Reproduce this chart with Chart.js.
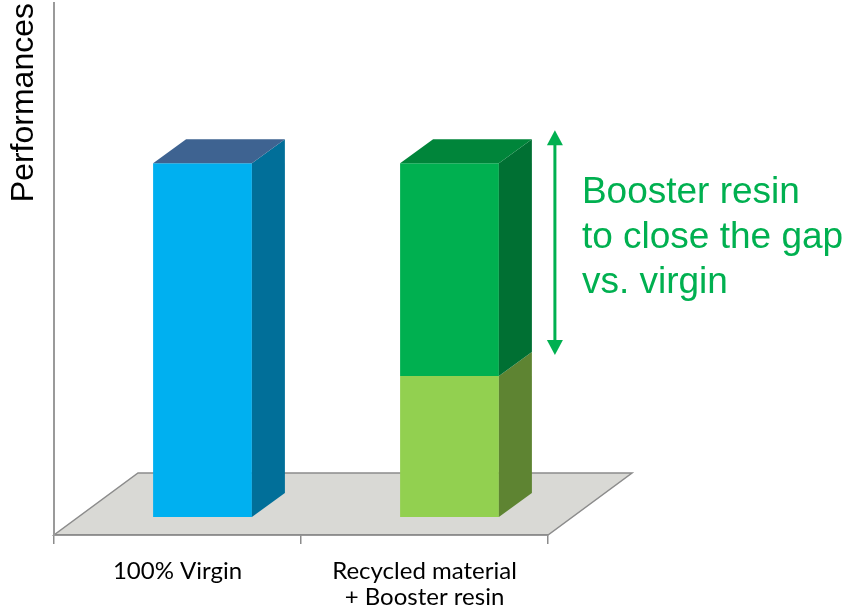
<!DOCTYPE html>
<html>
<head>
<meta charset="utf-8">
<script src="https://cdn.jsdelivr.net/npm/chart.js@4"></script>
<style>
  html, body { margin: 0; padding: 0; background: #fff; }
  #wrap { width: 848px; height: 612px; position: relative; }
</style>
</head>
<body>
<div id="wrap"><canvas id="perfChart"></canvas></div>
<script>
const categories = ["100% Virgin", ["Recycled material", "+ Booster resin"]];
const virginValues = [66.5, null];
const recycledValues = [null, 26.5];
const boosterValues = [null, 40.0];
const annotationLines = ["Booster resin", "to close the gap", "vs. virgin"];

// 3D look: shift of the bar fronts into the floor, bar depth, floor depth
const SHIFT_X = 25, SHIFT_Y = -18;
const DEPTH_X = 33, DEPTH_Y = -24;
const FLOOR_X = 84, FLOOR_Y = -62;

const bar3d = {
  id: "bar3d",
  beforeDraw(chart) {
    const { ctx, chartArea: a } = chart;
    ctx.save();
    ctx.beginPath();
    ctx.moveTo(a.left, a.bottom);
    ctx.lineTo(a.right, a.bottom);
    ctx.lineTo(a.right + FLOOR_X, a.bottom + FLOOR_Y);
    ctx.lineTo(a.left + FLOOR_X, a.bottom + FLOOR_Y);
    ctx.closePath();
    ctx.fillStyle = "#d9d9d5";
    ctx.fill();
    ctx.strokeStyle = "#8c8c8c";
    ctx.lineWidth = 1.5;
    ctx.stroke();
    ctx.restore();
  },
  beforeDatasetsDraw(chart) {
    chart.ctx.save();
    chart.ctx.translate(SHIFT_X, SHIFT_Y);
  },
  afterDatasetsDraw(chart) {
    const ctx = chart.ctx;
    ctx.restore();
    const tops = [];
    chart.data.datasets.forEach((ds, i) => {
      const meta = chart.getDatasetMeta(i);
      meta.data.forEach((bar, j) => {
        if (ds.data[j] == null) return;
        const p = bar.getProps(["x", "y", "base", "width"], true);
        const l = p.x - p.width / 2 + SHIFT_X;
        const r = p.x + p.width / 2 + SHIFT_X;
        const t = p.y + SHIFT_Y;
        const b = p.base + SHIFT_Y;
        ctx.save();
        ctx.fillStyle = ds.sideColor;
        ctx.beginPath();
        ctx.moveTo(r, t);
        ctx.lineTo(r + DEPTH_X, t + DEPTH_Y);
        ctx.lineTo(r + DEPTH_X, b + DEPTH_Y);
        ctx.lineTo(r, b);
        ctx.closePath();
        ctx.fill();
        ctx.restore();
        if (!tops[j] || t < tops[j].t) tops[j] = { l, r, t, color: ds.topColor };
      });
    });
    tops.forEach(tp => {
      if (!tp) return;
      ctx.save();
      ctx.fillStyle = tp.color;
      ctx.beginPath();
      ctx.moveTo(tp.l, tp.t);
      ctx.lineTo(tp.l + DEPTH_X, tp.t + DEPTH_Y);
      ctx.lineTo(tp.r + DEPTH_X, tp.t + DEPTH_Y);
      ctx.lineTo(tp.r, tp.t);
      ctx.closePath();
      ctx.fill();
      ctx.restore();
    });

    // gap arrow + note next to the booster bar
    const top = chart.getDatasetMeta(2).data[1].getProps(["x", "y", "base", "width"], true);
    const ax = top.x + top.width / 2 + SHIFT_X + DEPTH_X + 23;
    const y1 = top.y + SHIFT_Y + DEPTH_Y - 9;
    const y2 = top.base + SHIFT_Y + DEPTH_Y + 3;
    const green = "#00b050";
    ctx.save();
    ctx.strokeStyle = green;
    ctx.fillStyle = green;
    ctx.lineWidth = 3;
    ctx.beginPath();
    ctx.moveTo(ax, y1 + 10);
    ctx.lineTo(ax, y2 - 10);
    ctx.stroke();
    ctx.beginPath();
    ctx.moveTo(ax, y1);
    ctx.lineTo(ax - 8, y1 + 15);
    ctx.lineTo(ax + 8, y1 + 15);
    ctx.closePath();
    ctx.fill();
    ctx.beginPath();
    ctx.moveTo(ax, y2);
    ctx.lineTo(ax - 8, y2 - 15);
    ctx.lineTo(ax + 8, y2 - 15);
    ctx.closePath();
    ctx.fill();
    ctx.font = "37px 'Liberation Sans', Arial, sans-serif";
    ctx.textBaseline = "alphabetic";
    ctx.textAlign = "left";
    annotationLines.forEach((line, k) => {
      ctx.fillText(line, ax + 27, y1 + 73 + k * 45);
    });
    ctx.restore();
  }
};

new Chart(document.getElementById("perfChart"), {
  type: "bar",
  data: {
    labels: categories,
    datasets: [
      { label: "Virgin", data: virginValues, backgroundColor: "#00b0f0", sideColor: "#016f99", topColor: "#3e6391" },
      { label: "Recycled material", data: recycledValues, backgroundColor: "#92d050", sideColor: "#5e8432", topColor: "#6f9a3a" },
      { label: "Booster resin", data: boosterValues, backgroundColor: "#00b050", sideColor: "#007033", topColor: "#00853a" }
    ]
  },
  options: {
    responsive: true,
    maintainAspectRatio: false,
    animation: false,
    events: [],
    layout: { padding: { top: 3, right: 300, left: 0, bottom: 0 } },
    datasets: { bar: { barPercentage: 0.4, categoryPercentage: 1, stack: "one" } },
    plugins: { legend: { display: false }, tooltip: { enabled: false } },
    scales: {
      x: {
        stacked: true,
        offset: true,
        grid: { display: true, offset: true, drawOnChartArea: false, tickLength: 9, color: "#8c8c8c", lineWidth: 1.5 },
        border: { display: true, color: "#8c8c8c", width: 1.5 },
        ticks: { color: "#000", padding: 14, maxRotation: 0, font: { family: "Lato", size: 24, lineHeight: 1.1 } },
        afterFit(scale) { scale.height = 77; }
      },
      y: {
        stacked: true,
        min: 0,
        max: 100,
        grid: { display: false },
        border: { display: true, color: "#9a9a9a", width: 2 },
        ticks: { display: false },
        title: {
          display: true,
          text: "Performances",
          align: "end",
          padding: { top: 5, bottom: 4 },
          color: "#000",
          font: { family: "'Liberation Sans', Arial", size: 32 }
        },
        afterFit(scale) { scale.width = 54; }
      }
    }
  },
  plugins: [bar3d]
});
</script>
</body>
</html>
